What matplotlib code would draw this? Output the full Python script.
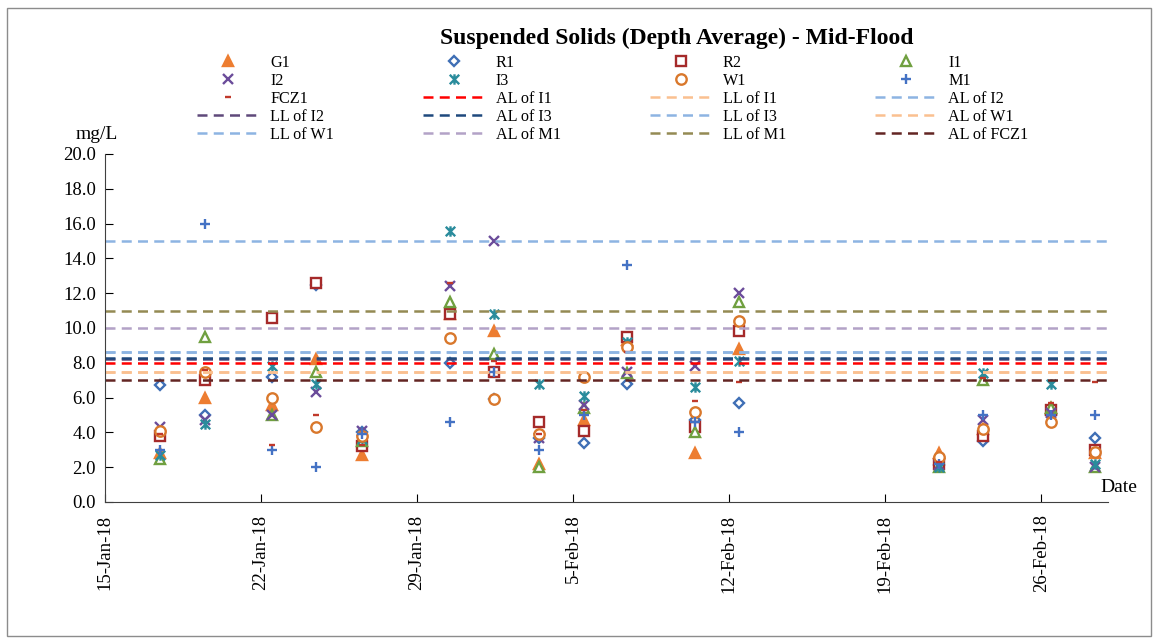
import numpy as np
import pandas as pd
import matplotlib
matplotlib.use("Agg")
import matplotlib.pyplot as plt
import matplotlib.dates as mdates
from matplotlib.path import Path
from matplotlib.patches import Rectangle

plt.rcParams["font.family"] = ["Liberation Serif", "DejaVu Serif"]

TITLE = "Suspended Solids (Depth Average) - Mid-Flood"

dates = pd.to_datetime([
    "2018-01-17 11:15", "2018-01-19 11:30", "2018-01-22 11:45", "2018-01-24 11:00",
    "2018-01-26 12:15", "2018-01-30 12:00", "2018-02-01 10:30", "2018-02-03 11:00",
    "2018-02-05 11:30", "2018-02-07 09:45", "2018-02-10 11:45", "2018-02-12 10:15",
    "2018-02-21 10:30", "2018-02-23 09:30", "2018-02-26 10:45", "2018-02-28 10:00",
])

g1 = [2.8, 6.0, 5.6, 8.2, 2.7, 10.8, 9.8, 2.2, 4.7, 9.3, 2.8, 8.8, 2.8, 4.2, 5.4, 2.8]
r1 = [6.7, 5.0, 7.2, 12.5, 4.0, 8.0, 5.9, 3.7, 3.4, 6.8, 4.7, 5.7, 2.1, 3.5, 5.0, 3.7]
r2 = [3.8, 7.0, 10.6, 12.6, 3.2, 10.8, 7.5, 4.6, 4.1, 9.5, 4.3, 9.8, 2.2, 3.8, 5.3, 3.0]
i1 = [2.5, 9.5, 5.0, 7.5, 3.5, 11.5, 8.5, 2.0, 5.4, 7.4, 4.0, 11.5, 2.0, 7.0, 5.4, 2.0]
i2 = [4.3, 4.7, 5.0, 6.3, 4.1, 12.4, 15.0, 3.7, 5.6, 7.5, 7.8, 12.0, 2.1, 4.7, 5.1, 2.0]
i3 = [2.7, 4.5, 7.8, 6.8, 3.6, 15.6, 10.8, 6.8, 6.1, 9.2, 6.6, 8.1, 2.0, 7.4, 6.8, 2.2]
w1 = [4.1, 7.5, 6.0, 4.3, 3.8, 9.4, 5.9, 3.9, 7.2, 8.9, 5.2, 10.4, 2.6, 4.2, 4.6, 2.9]
m1 = [3.0, 16.0, 3.0, 2.0, 3.9, 4.6, 7.5, 3.0, 5.0, 13.6, 4.6, 4.0, 2.2, 5.0, 5.0, 5.0]
fcz1 = [3.9, 7.6, 3.3, 5.0, 3.3, 12.6, 8.1, 3.9, 5.3, 8.6, 5.8, 6.9, 2.3, 7.1, 5.7, 6.9]

limit_names = ["AL of I1", "LL of I1", "AL of I2", "LL of I2", "AL of I3", "LL of I3",
               "AL of W1", "LL of W1", "AL of M1", "LL of M1", "AL of FCZ1"]
limit_values = [8.0, 7.5, 8.6, 8.2, 8.3, 8.6, 7.5, 15.0, 10.0, 11.0, 7.0]
limit_colors = ["#FF0000", "#FAC090", "#8DB4E2", "#5F497A", "#1F497D", "#8DB4E2",
                "#FAC090", "#8DB4E2", "#B3A2C7", "#948A54", "#632523"]

# excel-like "star" marker: x with a vertical bar
star = Path(
    [(-1, -1), (1, 1), (-1, 1), (1, -1), (0, -1.1), (0, 1.1)],
    [Path.MOVETO, Path.LINETO, Path.MOVETO, Path.LINETO, Path.MOVETO, Path.LINETO],
)

series = [
    ("G1", g1, dict(marker="^", color="#ED7D31", mfc="#ED7D31", ms=7.5)),
    ("R1", r1, dict(marker="D", color="#3F6FB5", mfc="white", ms=5.5)),
    ("R2", r2, dict(marker="s", color="#A52A2A", mfc="white", ms=7.5)),
    ("I1", i1, dict(marker="^", color="#70A040", mfc="white", ms=7.5)),
    ("I2", i2, dict(marker="x", color="#6B4C9A", ms=7.5)),
    ("I3", i3, dict(marker=star, color="#2A8C9C", ms=7.5)),
    ("W1", w1, dict(marker="o", color="#D9782C", mfc="white", ms=7.5)),
    ("M1", m1, dict(marker="+", color="#4472C4", ms=7.5)),
    ("FCZ1", fcz1, dict(marker="_", color="#C0392B", ms=5)),
]

fig = plt.figure(figsize=(11.58, 6.39), dpi=100)
fig.patches.append(Rectangle((0.006, 0.004), 0.988, 0.983, transform=fig.transFigure,
                             fill=False, edgecolor="#8c8c8c", linewidth=1))
ax = fig.add_axes([105 / 1158, 1 - 502 / 639, 1003 / 1158, 348 / 639])

handles = []
for name, values, style in series:
    h, = ax.plot(dates, values, linestyle="none", mew=1.7, label=name, **style)
    handles.append(h)

for name, value, color in zip(limit_names, limit_values, limit_colors):
    h = ax.axhline(value, color=color, linewidth=1.8, dashes=(4, 2.5), label=name)
    handles.append(h)

ax.set_ylim(0, 20)
ax.set_yticks(np.arange(0, 20.1, 2))
ax.yaxis.set_major_formatter(plt.FormatStrFormatter("%.1f"))
ax.set_xlim(pd.Timestamp("2018-01-15"), pd.Timestamp("2018-03-01"))
ax.set_xticks(pd.date_range("2018-01-15", "2018-02-26", freq="7D"))
ax.xaxis.set_major_formatter(
    plt.FuncFormatter(lambda x, pos: f"{mdates.num2date(x).day}-{mdates.num2date(x):%b-%y}"))
ax.tick_params(axis="x", direction="in", length=6, rotation=90, labelsize=13.5, pad=9)
ax.tick_params(axis="y", direction="in", length=6, labelsize=13.5, pad=6.5)
for side in ["top", "right"]:
    ax.spines[side].set_visible(False)
for side in ["left", "bottom"]:
    ax.spines[side].set_color("#404040")

fig.text(677 / 1158, 1 - 38 / 639, TITLE, ha="center", va="center",
         fontsize=17, fontweight="bold")
fig.text(97 / 1158, 1 - 135 / 639, "mg/L", ha="center", va="center", fontsize=14)
fig.text(1119 / 1158, 1 - 487 / 639, "Date", ha="center", va="center", fontsize=14)

ncol = 4
nrow = 5
order = [r * ncol + c for c in range(ncol) for r in range(nrow)]
fig.legend([handles[k] for k in order], [handles[k].get_label() for k in order],
           ncol=ncol, loc="upper left", bbox_to_anchor=(197 / 1158, 1 - 55 / 639),
           frameon=False, fontsize=11.6, borderpad=0, borderaxespad=0,
           handlelength=3.9, handletextpad=0.65, labelspacing=0.12, columnspacing=5.5)

fig.savefig("out.png", dpi=100)
